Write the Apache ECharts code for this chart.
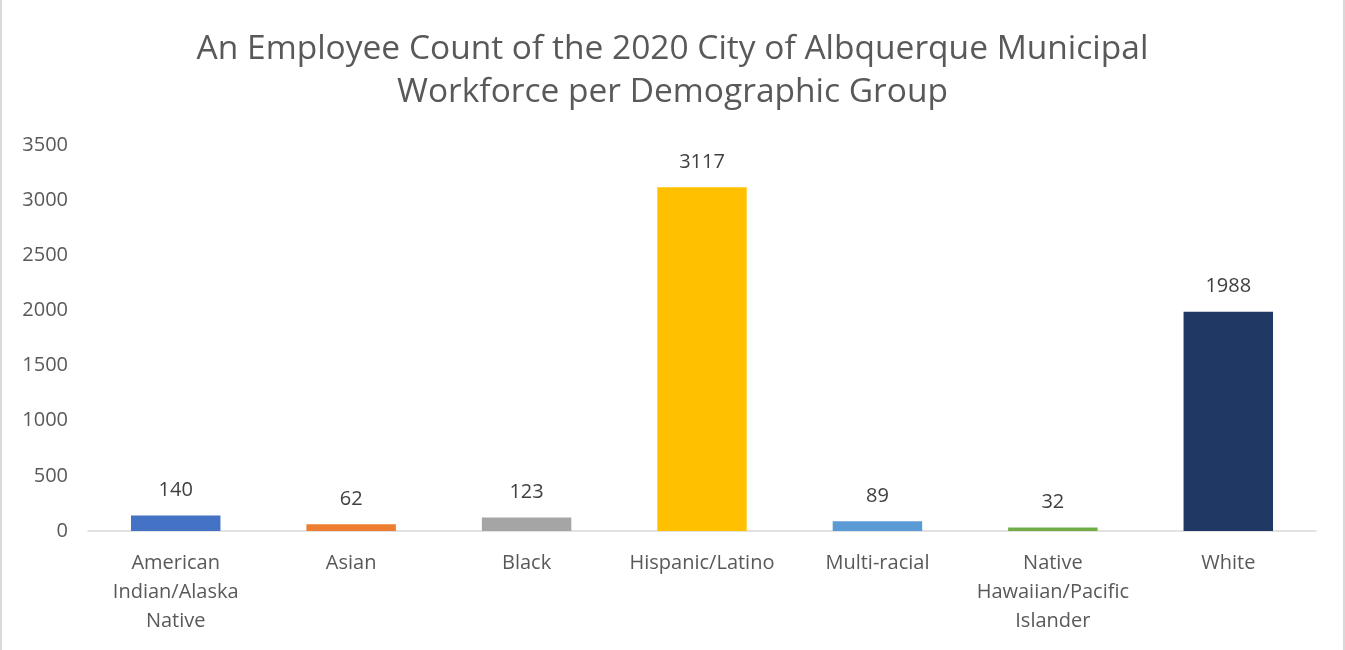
<!DOCTYPE html>
<html>
<head>
    <meta charset="utf-8">
    <title>Albuquerque Workforce</title>
    <style>
        html, body {
            margin: 0;
            padding: 0;
            width: 100%;
            height: 100%;
            overflow: hidden;
            background: #fff;
        }
        #chart {
            position: absolute;
            left: 0;
            top: 0;
            width: 1341px;
            height: 650px;
            border-left: 2px solid #d9d9d9;
            border-right: 2px solid #d9d9d9;
        }
    </style>
</head>
<body>
    <div id="chart"></div>
    <script src="https://cdn.jsdelivr.net/npm/echarts@6/dist/echarts.min.js"></script>
    <script>
        // data
        var categories = ['American Indian/Alaska Native', 'Asian', 'Black', 'Hispanic/Latino',
            'Multi-racial', 'Native Hawaiian/Pacific Islander', 'White'];
        // how the category names wrap under the axis
        var categoryLabels = ['American\nIndian/Alaska\nNative', 'Asian', 'Black', 'Hispanic/Latino',
            'Multi-racial', 'Native\nHawaiian/Pacific\nIslander', 'White'];
        var counts = [140, 62, 123, 3117, 89, 32, 1988];
        var barColors = ['#4472C4', '#ED7D31', '#A5A5A5', '#FFC000', '#5B9BD5', '#70AD47', '#203864'];
        var yTicks = { min: 0, max: 3500, interval: 500 };

        var font = 'Open Sans';
        var myChart = echarts.init(document.getElementById('chart'));

        myChart.setOption({
            animation: false,
            title: {
                text: 'An Employee Count of the 2020 City of Albquerque Municipal\nWorkforce per Demographic Group',
                left: 'center',
                top: 23,
                textStyle: {
                    color: '#595959',
                    fontFamily: font,
                    fontWeight: 'normal',
                    fontSize: 33.5,
                    lineHeight: 43
                }
            },
            // canvas starts 2px in because of the left border
            grid: {
                left: 86,
                right: 27,
                top: 145,
                bottom: 119,
                containLabel: false
            },
            xAxis: {
                type: 'category',
                data: categories,
                axisLine: { lineStyle: { color: '#d9d9d9', width: 1.5 } },
                axisTick: { show: false },
                axisLabel: {
                    interval: 0,
                    margin: 18,
                    color: '#595959',
                    fontFamily: font,
                    fontSize: 20,
                    lineHeight: 29,
                    formatter: function (v, i) {
                        return categoryLabels[i];
                    }
                }
            },
            yAxis: {
                type: 'value',
                min: yTicks.min,
                max: yTicks.max,
                interval: yTicks.interval,
                splitLine: { show: false },
                axisLine: { show: false },
                axisTick: { show: false },
                axisLabel: {
                    margin: 20,
                    color: '#595959',
                    fontFamily: font,
                    fontSize: 20,
                    formatter: function (v) {
                        return String(v);
                    }
                }
            },
            series: [{
                type: 'bar',
                data: counts.map(function (v, i) {
                    return { value: v, itemStyle: { color: barColors[i] } };
                }),
                barWidth: '51%',
                label: {
                    show: true,
                    position: 'top',
                    distance: 15,
                    color: '#404040',
                    fontFamily: font,
                    fontSize: 20
                }
            }]
        });
    </script>
</body>
</html>
